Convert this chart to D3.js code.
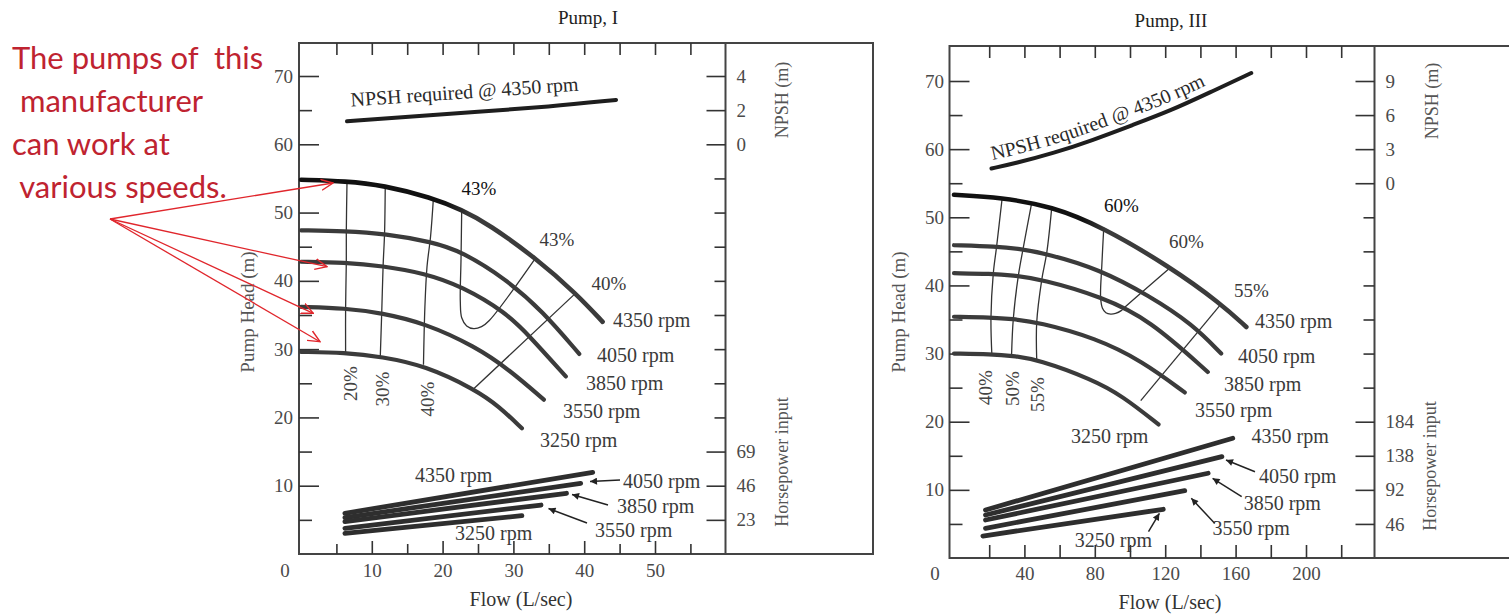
<!DOCTYPE html>
<html><head><meta charset="utf-8">
<script src="https://cdn.jsdelivr.net/npm/d3@7"></script>
<style>
html,body{margin:0;padding:0;background:#fff;}
svg{display:block;}
</style></head><body>
<svg id="chart" width="1509" height="616"></svg>
<script>
// ================= DATA =================
const speeds = ["4350 rpm", "4050 rpm", "3850 rpm", "3550 rpm", "3250 rpm"];

// ---- Pump I : head curves  [flow L/s, head m]
const p1Head4350 = [[0,54.8],[6.4,54.6],[11.6,54.0],[18.4,52.2],[22.7,50.4],[26.5,48.3],[33.2,43.3],[38.9,38.1],[42.6,34.0]];
const p1Head4050 = [[0,47.4],[6.2,47.3],[11.9,46.9],[18.5,45.7],[22.7,44.3],[28.9,40.3],[34.1,35.6],[39.3,29.3]];
const p1Head3850 = [[0,42.8],[6.2,42.7],[11.4,42.2],[17.5,41.1],[22.7,39.2],[28.9,35.4],[32.2,32.0],[37.4,26.0]];
const p1Head3550 = [[0,36.2],[6.2,36.0],[11.4,35.3],[17.5,33.8],[24.6,30.4],[29.4,27.0],[34.3,22.6]];
const p1Head3250 = [[0,29.6],[6.2,29.5],[11.4,28.9],[17.5,27.6],[24.6,24.1],[28.0,21.6],[31.2,18.4]];
// ---- Pump I : efficiency contours [flow, head]
const p1Eff20  = [[6.5,54.6],[6.4,47.3],[6.4,42.7],[6.3,36.0],[6.3,29.5]];
const p1Eff30  = [[11.9,54.0],[11.8,46.9],[11.6,42.3],[11.4,35.3],[11.2,29.0]];
const p1Eff40  = [[18.7,52.1],[18.3,46.5],[17.8,42.1],[17.5,36.2],[17.3,27.7]];
const p1Eff43  = [[22.7,50.4],[22.6,43.1],[22.5,37.0],[22.7,34.6],[23.4,33.4],[24.4,33.0],[25.5,33.3],[26.6,34.2],[33.1,43.3]];
const p1Eff40b = [[38.8,38.2],[24.4,24.2]];
// ---- Pump I : NPSH required @ 4350 rpm
const p1NpshFlow = [6.5, 15, 25, 35, 44.5];
const p1NpshVal  = [1.35, 1.6, 1.9, 2.2, 2.6];
// ---- Pump I : horsepower input [flow, hp]
const p1Hp4350 = [[6.2,27.4],[41.2,55.0]];
const p1Hp4050 = [[6.2,24.5],[39.5,47.6]];
const p1Hp3850 = [[6.2,21.8],[37.5,40.9]];
const p1Hp3550 = [[6.2,17.3],[33.9,33.0]];
const p1Hp3250 = [[6.2,13.9],[31.2,25.8]];
// ---- Pump I : tick labels
const p1FlowTicks = [10, 20, 30, 40, 50];
const p1HeadTicks = [10, 20, 30, 40, 50, 60, 70];
const p1NpshTicks = [0, 2, 4];
const p1HpTicks   = [23, 46, 69];

// ---- Pump III : head curves
const p3Head4350 = [[0,53.3],[27,52.9],[55.6,51.6],[84.2,48.6],[122.3,42.8],[151.8,37.3],[166.1,33.9]];
const p3Head4050 = [[0,45.9],[24.2,45.7],[36.6,45.4],[53.7,44.6],[82.3,42.4],[110.9,38.5],[135.6,34.3],[151.8,30.0]];
const p3Head3850 = [[0,41.8],[21.3,41.7],[32.7,41.5],[49.9,40.9],[84.2,38.3],[110.9,35.0],[144.2,27.3]];
const p3Head3550 = [[0,35.4],[21.3,35.3],[32.7,35.1],[48,34.6],[80.4,32.3],[107,28.9],[131.1,24.3]];
const p3Head3250 = [[0,30.0],[21.3,29.9],[32.7,29.7],[48,29.1],[78.5,26.2],[95.6,23.8],[116.2,19.6]];
// ---- Pump III : efficiency contours
const p3Eff40  = [[27.4,52.9],[24.2,45.7],[22.3,41.7],[21.0,35.3],[21.5,29.9]];
const p3Eff50  = [[44.2,52.2],[39.4,45.6],[36.6,41.5],[33.7,35.1],[32.7,29.7]];
const p3Eff55  = [[55.6,51.6],[52.7,44.8],[49.9,40.9],[47.0,34.6],[47.0,29.1]];
const p3Eff60  = [[85.1,48.5],[84.0,43.0],[83.3,38.3],[84.3,36.7],[86.3,36.0],[89.0,35.8],[91.8,35.9],[95.0,36.3],[97.5,36.9],[123.3,42.7]];
const p3Eff55b = [[151.8,37.3],[106.1,23.1]];
// ---- Pump III : NPSH required @ 4350 rpm
const p3NpshFlow = [21.3, 34.6, 56.7, 79, 101.1, 123.3, 145.5, 168.9];
const p3NpshVal  = [1.3, 1.75, 2.65, 3.8, 5.1, 6.4, 8.0, 9.7];
// ---- Pump III : horsepower input
const p3Hp4350 = [[17.9,64.8],[158.4,161.6]];
const p3Hp4050 = [[17.9,58.0],[152.2,136.8]];
const p3Hp3850 = [[17.9,51.3],[144.4,114.4]];
const p3Hp3550 = [[17.9,40.1],[131.1,90.9]];
const p3Hp3250 = [[16.4,29.7],[118.9,65.8]];
// ---- Pump III : tick labels
const p3FlowTicks = [40, 80, 120, 160, 200];
const p3HeadTicks = [10, 20, 30, 40, 50, 60, 70];
const p3NpshTicks = [0, 3, 6, 9];
const p3HpTicks   = [46, 92, 138, 184];

// ---- annotation text
const noteLines = ["The pumps of  this", " manufacturer", "can work at", " various speeds."];

// ================= LAYOUT / STYLE =================
const SERIF = "'Liberation Serif','Times New Roman',serif";
const INK = "#3b3b3b";
const TXT = "#3a3a3a";
const svg = d3.select("#chart");
svg.append("rect").attr("width", 1509).attr("height", 616).attr("fill", "#fff");
const defs = svg.append("defs");
defs.append("marker").attr("id", "blkArrow").attr("viewBox", "0 0 10 10")
  .attr("refX", 10).attr("refY", 5).attr("markerWidth", 9).attr("markerHeight", 7)
  .attr("markerUnits", "userSpaceOnUse").attr("orient", "auto")
  .append("path").attr("d", "M0,0L10,5L0,10Z").attr("fill", "#222");
defs.append("marker").attr("id", "redArrow").attr("viewBox", "0 0 12 12")
  .attr("refX", 11).attr("refY", 6).attr("markerWidth", 13).attr("markerHeight", 13)
  .attr("markerUnits", "userSpaceOnUse").attr("orient", "auto")
  .append("path").attr("d", "M0,1L11,6L0,11").attr("fill", "none").attr("stroke", "#e0262c").attr("stroke-width", 1.3);

const range = (a, b, s) => d3.range(a, b + 1e-9, s);

const P1 = {
  id: "p1", title: "Pump, I", titleX: 588, titleY: 24,
  left: 299, inner: 725.5, outer: 873, top: 43, bottom: 554,
  x: d3.scaleLinear().domain([0, 60]).range([301, 725.8]),
  y: d3.scaleLinear().domain([0, 70]).range([554, 76]),
  npshDom: [0, 4], npshHeads: [60, 70], hpDom: [0, 69], hpHeads: [0, 15],
  headMajor: range(10, 70, 10), headMinor: range(5, 65, 10),
  flowMajor: range(10, 50, 10), flowMinor: range(5, 55, 10), topTicks: range(5, 55, 5),
  innerShort: [50, 45, 40, 35, 30, 25, 20, 55], innerLong: [70, 65, 60, 15, 10, 5],
  labelPad: 6, botPad: 9.5, corner0: [285, 577],
  headLabel: [247, 312], flowLabel: [521, 606], npshLabel: [782, 100], hpLabel: [782, 462],
  darkUntil: 24,
  heads: [p1Head4350, p1Head4050, p1Head3850, p1Head3550, p1Head3250],
  effs: [p1Eff20, p1Eff30, p1Eff40, p1Eff43, p1Eff40b],
  hps: [p1Hp4350, p1Hp4050, p1Hp3850, p1Hp3550, p1Hp3250],
  npshFlow: p1NpshFlow, npshVal: p1NpshVal,
  flowTicks: p1FlowTicks, headTicks: p1HeadTicks, npshTicks: p1NpshTicks, hpTicks: p1HpTicks,
  npshText: { path: false, x: 351, y: 106.5, rot: -4 },
  topPct: [["43%", 479, 195, true], ["43%", 557, 246], ["40%", 609, 290]],
  rotPct: [["20%", 350.5, 383.5], ["30%", 382.5, 389], ["40%", 427.5, 399]],
  rpmLab: [[613, 327], [597, 362], [586, 390], [563, 418], [540, 447]],
  hpLab: [[415, 482], [623, 488], [617, 513], [595, 537], [455, 540]],
  arrows: [[[620, 480], [590, 481.5]], [[608, 505], [572, 494.5]], [[587, 523], [548.5, 508.5]]]
};
const P3 = {
  id: "p3", title: "Pump, III", titleX: 1171, titleY: 27,
  left: 949.5, inner: 1374.5, outer: 1530, top: 46, bottom: 558,
  x: d3.scaleLinear().domain([0, 240]).range([954, 1376.4]),
  y: d3.scaleLinear().domain([0, 70]).range([558, 81]),
  npshDom: [0, 9], npshHeads: [55, 70], hpDom: [0, 184], hpHeads: [0, 20],
  headMajor: range(10, 70, 10), headMinor: range(5, 65, 10),
  flowMajor: range(20, 220, 20), flowMinor: [], topTicks: range(20, 220, 20),
  innerShort: [50, 45, 40, 35, 30, 25], innerLong: [70, 65, 60, 55, 20, 15, 10, 5],
  labelPad: 5.5, botPad: 8.5, corner0: [935, 580],
  headLabel: [898, 312], flowLabel: [1170, 609], npshLabel: [1432, 101], hpLabel: [1430, 466],
  darkUntil: 86,
  heads: [p3Head4350, p3Head4050, p3Head3850, p3Head3550, p3Head3250],
  effs: [p3Eff40, p3Eff50, p3Eff55, p3Eff60, p3Eff55b],
  hps: [p3Hp4350, p3Hp4050, p3Hp3850, p3Hp3550, p3Hp3250],
  npshFlow: p3NpshFlow, npshVal: p3NpshVal,
  flowTicks: p3FlowTicks, headTicks: p3HeadTicks, npshTicks: p3NpshTicks, hpTicks: p3HpTicks,
  npshText: { path: true },
  topPct: [["60%", 1121.5, 212, true], ["60%", 1186.5, 248], ["55%", 1251.5, 297]],
  rotPct: [["40%", 985.5, 387.5], ["50%", 1012.5, 388.5], ["55%", 1037.5, 394.5]],
  rpmLab: [[1255, 328], [1238, 363], [1224, 391], [1195, 417], [1071, 443]],
  hpLab: [[1251.5, 443], [1259, 483], [1243.7, 510], [1212.6, 535], [1074.8, 547]],
  arrows: [[[1255, 471.7], [1226, 460]], [[1241.7, 496.7], [1212.6, 478.3]], [[1214.6, 523.3], [1191.3, 498.3]], [[1148.5, 531.7], [1159.4, 513.3]]]
};

function styleAxis(sel, size) {
  sel.select(".domain").remove();
  sel.attr("font-family", SERIF).attr("font-size", size || 19);
  sel.selectAll("line").attr("stroke", "#333").attr("stroke-width", 1.6);
  sel.selectAll("text").attr("fill", "#4a4a4a");
  return sel;
}
function txt(g, s, x, y, opt) {
  opt = opt || {};
  const t = g.append("text").attr("x", x).attr("y", y).text(s)
    .attr("font-family", SERIF).attr("font-size", opt.size || 20)
    .attr("fill", opt.fill || TXT).attr("text-anchor", opt.anchor || "start");
  if (opt.rot != null) t.attr("transform", `rotate(${opt.rot},${x},${y})`);
  if (opt.weight) t.attr("font-weight", opt.weight);
  if (opt.baseline) t.attr("dominant-baseline", opt.baseline);
  return t;
}

function drawPump(o) {
  const { x, y } = o;
  const g = svg.append("g");
  const npsh = d3.scaleLinear().domain(o.npshDom).range([y(o.npshHeads[0]), y(o.npshHeads[1])]);
  const hp = d3.scaleLinear().domain(o.hpDom).range([y(o.hpHeads[0]), y(o.hpHeads[1])]);
  const intFmt = d3.format("d");

  // frame
  g.append("rect").attr("x", o.left).attr("y", o.top).attr("width", o.outer - o.left)
    .attr("height", o.bottom - o.top).attr("fill", "none").attr("stroke", "#444").attr("stroke-width", 2);
  g.append("line").attr("x1", o.inner).attr("x2", o.inner).attr("y1", o.top).attr("y2", o.bottom)
    .attr("stroke", "#444").attr("stroke-width", 2);

  // left axis ticks (inward) + labels
  styleAxis(g.append("g").attr("transform", `translate(${o.left},0)`).call(d3.axisRight(y).tickValues(o.headMajor).tickSize(20).tickFormat("")));
  styleAxis(g.append("g").attr("transform", `translate(${o.left},0)`).call(d3.axisRight(y).tickValues(o.headMinor).tickSize(13).tickFormat("")));
  styleAxis(g.append("g").attr("transform", `translate(${o.left},0)`).call(d3.axisLeft(y).tickValues(o.headTicks).tickSize(0).tickPadding(o.labelPad).tickFormat(intFmt)));
  // bottom ticks + labels
  styleAxis(g.append("g").attr("transform", `translate(0,${o.bottom})`).call(d3.axisTop(x).tickValues(o.flowMajor).tickSize(13).tickFormat("")));
  if (o.flowMinor.length)
    styleAxis(g.append("g").attr("transform", `translate(0,${o.bottom})`).call(d3.axisTop(x).tickValues(o.flowMinor).tickSize(10).tickFormat("")));
  styleAxis(g.append("g").attr("transform", `translate(0,${o.bottom})`).call(d3.axisBottom(x).tickValues(o.flowTicks).tickSize(0).tickPadding(o.botPad).tickFormat(intFmt)));
  txt(g, "0", o.corner0[0], o.corner0[1], { anchor: "middle", size: 19, fill: "#4a4a4a" });
  // top ticks
  styleAxis(g.append("g").attr("transform", `translate(0,${o.top})`).call(d3.axisBottom(x).tickValues(o.topTicks).tickSize(12).tickFormat("")));
  // inner right axis: ticks pointing left, NPSH and HP labels to the right
  styleAxis(g.append("g").attr("transform", `translate(${o.inner},0)`).call(d3.axisLeft(y).tickValues(o.innerShort).tickSize(11).tickFormat("")));
  styleAxis(g.append("g").attr("transform", `translate(${o.inner},0)`).call(d3.axisLeft(y).tickValues(o.innerLong).tickSize(19).tickFormat("")));
  styleAxis(g.append("g").attr("transform", `translate(${o.inner},0)`).call(d3.axisRight(npsh).tickValues(o.npshTicks).tickSize(0).tickPadding(11).tickFormat(intFmt)));
  styleAxis(g.append("g").attr("transform", `translate(${o.inner},0)`).call(d3.axisRight(hp).tickValues(o.hpTicks).tickSize(0).tickPadding(11).tickFormat(intFmt)));

  // axis titles
  txt(g, o.title, o.titleX, o.titleY, { anchor: "middle", size: 19, fill: "#222" });
  txt(g, "Pump Head (m)", o.headLabel[0], o.headLabel[1], { anchor: "middle", size: 19, fill: "#555", rot: -90, baseline: "central" });
  txt(g, "Flow (L/sec)", o.flowLabel[0], o.flowLabel[1], { anchor: "middle", size: 20, fill: "#333" });
  txt(g, "NPSH (m)", o.npshLabel[0], o.npshLabel[1], { anchor: "middle", size: 18, fill: "#555", rot: -90, baseline: "central" });
  txt(g, "Horsepower input", o.hpLabel[0], o.hpLabel[1], { anchor: "middle", size: 18, fill: "#555", rot: -90, baseline: "central" });

  // efficiency contours (thin)
  const effLine = d3.line().x(d => x(d[0])).y(d => y(d[1])).curve(d3.curveCatmullRom.alpha(0.5));
  g.selectAll("path.eff").data(o.effs).join("path").attr("class", "eff")
    .attr("d", effLine).attr("fill", "none").attr("stroke", "#333").attr("stroke-width", 1.3);

  // head curves
  const grad = defs.append("linearGradient").attr("id", o.id + "dark").attr("gradientUnits", "userSpaceOnUse")
    .attr("x1", x(0)).attr("x2", x(o.darkUntil)).attr("y1", 0).attr("y2", 0);
  grad.append("stop").attr("offset", 0).attr("stop-color", "#111");
  grad.append("stop").attr("offset", 0.85).attr("stop-color", "#111");
  grad.append("stop").attr("offset", 1).attr("stop-color", INK);
  const headLine = d3.line().x(d => x(d[0])).y(d => y(d[1])).curve(d3.curveBasis);
  g.selectAll("path.head").data(o.heads).join("path").attr("class", "head")
    .attr("d", headLine).attr("fill", "none")
    .attr("stroke", (d, i) => i === 0 ? `url(#${o.id}dark)` : INK)
    .attr("stroke-width", (d, i) => i === 0 ? 4.6 : 4.2).attr("stroke-linecap", "round");

  // rpm labels for head curves
  o.rpmLab.forEach((p, i) => txt(g, speeds[i], p[0], p[1], { size: 20 }));
  // efficiency labels
  o.topPct.forEach(p => txt(g, p[0], p[1], p[2], { anchor: "middle", size: 19, fill: p[3] ? "#111" : TXT }));
  o.rotPct.forEach(p => txt(g, p[0], p[1], p[2], { anchor: "middle", size: 19, fill: "#444", rot: -90, baseline: "central" }));

  // NPSH curve
  const npshPts = o.npshFlow.map((f, i) => [f, o.npshVal[i]]);
  const npshLine = d3.line().x(d => x(d[0])).y(d => npsh(d[1])).curve(d3.curveBasis);
  g.append("path").attr("id", o.id + "npsh").datum(npshPts).attr("d", npshLine)
    .attr("fill", "none").attr("stroke", "#1e1e1e").attr("stroke-width", 4).attr("stroke-linecap", "round");
  if (o.npshText.path) {
    g.append("text").attr("font-family", SERIF).attr("font-size", 20).attr("fill", "#2a2a2a").attr("dy", -8)
      .append("textPath").attr("href", "#" + o.id + "npsh").attr("startOffset", 3).text("NPSH required @ 4350 rpm");
  } else {
    txt(g, "NPSH required @ 4350 rpm", o.npshText.x, o.npshText.y, { size: 20, fill: "#2a2a2a", rot: o.npshText.rot });
  }

  // horsepower lines
  const hpLine = d3.line().x(d => x(d[0])).y(d => hp(d[1]));
  g.selectAll("path.hp").data(o.hps).join("path").attr("class", "hp")
    .attr("d", hpLine).attr("fill", "none").attr("stroke", "#2e2e2e").attr("stroke-width", 4.8).attr("stroke-linecap", "round");
  o.hpLab.forEach((p, i) => txt(g, speeds[i], p[0], p[1], { size: 20 }));
  o.arrows.forEach(a => g.append("line").attr("x1", a[0][0]).attr("y1", a[0][1]).attr("x2", a[1][0]).attr("y2", a[1][1])
    .attr("stroke", "#222").attr("stroke-width", 1.5).attr("marker-end", "url(#blkArrow)"));
}

drawPump(P1);
drawPump(P3);

// ================= red annotation =================
const note = svg.append("g");
const noteX = [12, 12, 12, 12];
const noteY = [69, 112, 155, 198];
noteLines.forEach((s, i) => note.append("text").attr("x", noteX[i]).attr("y", noteY[i])
  .attr("xml:space", "preserve").style("white-space", "pre")
  .attr("font-family", "Lato, 'Open Sans', sans-serif").attr("font-size", 31).attr("fill", "#bf2330").text(s));
const noteFrom = [110, 219];
const noteTo = [[333, 183], [327, 266.7], [313.3, 313.3], [320, 341.7]];
noteTo.forEach(t => note.append("line").attr("x1", noteFrom[0]).attr("y1", noteFrom[1]).attr("x2", t[0]).attr("y2", t[1])
  .attr("stroke", "#e0262c").attr("stroke-width", 1.3).attr("marker-end", "url(#redArrow)"));
</script>
</body></html>
